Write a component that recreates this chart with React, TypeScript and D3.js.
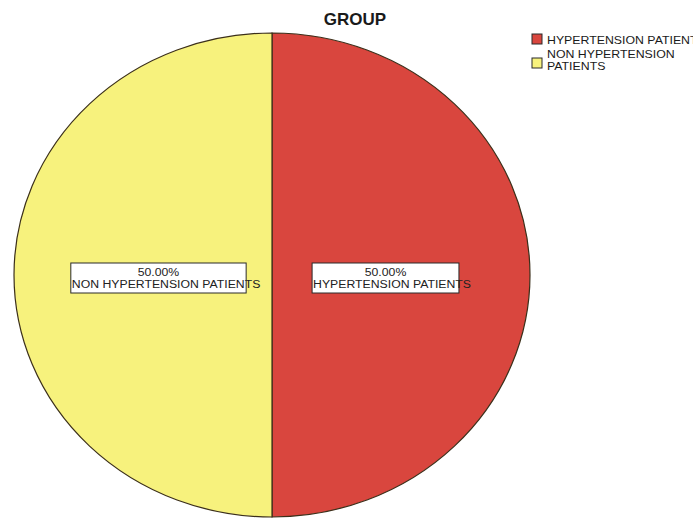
import { useEffect, useRef } from 'react';
import * as d3 from 'd3';

// Data
const categories = ['HYPERTENSION PATIENTS', 'NON HYPERTENSION PATIENTS'];
const percents = [50, 50];
const legendLines = [['HYPERTENSION PATIENTS'], ['NON HYPERTENSION', 'PATIENTS']];
const sliceColors = ['#d9463e', '#f7f27d'];

const WIDTH = 693;
const HEIGHT = 518;

export default function App() {
  const svgRef = useRef<SVGSVGElement>(null);

  useEffect(() => {
    if (!svgRef.current) return;
    const svg = d3.select(svgRef.current);
    svg.selectAll('*').remove();

    const cx = 272;
    const cy = 275;
    const rx = 258;
    const ry = 242;
    const sx = 1.066; // the picture is stretched horizontally
    const font = 'Liberation Sans, Arial, sans-serif';

    const data = categories.map((c, i) => ({ label: c, value: percents[i], color: sliceColors[i] }));

    const pie = d3
      .pie<{ label: string; value: number; color: string }>()
      .sort(null)
      .value((d) => d.value);
    const arcs = pie(data);

    const arc = d3
      .arc<d3.PieArcDatum<{ label: string; value: number; color: string }>>()
      .innerRadius(0)
      .outerRadius(rx);
    const labelArc = d3
      .arc<d3.PieArcDatum<{ label: string; value: number; color: string }>>()
      .innerRadius(rx * 0.44)
      .outerRadius(rx * 0.44);

    // Title
    svg
      .append('text')
      .attr('x', 355)
      .attr('y', 25)
      .attr('text-anchor', 'middle')
      .attr('font-family', font)
      .attr('font-weight', 'bold')
      .attr('font-size', 17)
      .attr('fill', '#1a1a1a')
      .text('GROUP');

    // Slices (ellipse: scaled vertically)
    const pieG = svg
      .append('g')
      .attr('transform', `translate(${cx},${cy}) scale(1,${ry / rx})`);
    pieG
      .selectAll('path')
      .data(arcs)
      .join('path')
      .attr('d', arc)
      .attr('fill', (d) => d.data.color)
      .attr('stroke', '#3b2f1a')
      .attr('stroke-width', 1.2)
      .attr('vector-effect', 'non-scaling-stroke');

    // Labels
    const labelG = svg.append('g').attr('transform', `translate(${cx},${cy})`);
    arcs.forEach((d) => {
      const [lx, ly] = labelArc.centroid(d);
      const py = ly * (ry / rx) + 3;
      const g = labelG.append('g').attr('transform', `translate(${lx},${py})`);
      const rect = g
        .append('rect')
        .attr('fill', '#ffffff')
        .attr('stroke', '#2a2a2a')
        .attr('stroke-width', 1);
      const tg = g.append('g').attr('transform', `scale(${sx},1)`);
      tg.append('text')
        .attr('x', 0)
        .attr('y', -2)
        .attr('text-anchor', 'middle')
        .attr('font-family', font)
        .attr('font-size', 11.5)
        .attr('fill', '#222')
        .text(`${d.data.value.toFixed(2)}%`);
      const t2 = tg
        .append('text')
        .attr('y', 10)
        .attr('font-family', font)
        .attr('font-size', 11.5)
        .attr('fill', '#222')
        .text(d.data.label);
      const len = (t2.node() as SVGTextElement).getComputedTextLength() * sx;
      const w = len * 0.93;
      rect.attr('x', -w / 2).attr('y', -15).attr('width', w).attr('height', 30);
      t2.attr('x', (-w / 2 + 1) / sx);
    });

    // Legend
    const legend = svg.append('g').attr('transform', 'translate(532,34)');
    let yOff = 0;
    legendLines.forEach((lines, i) => {
      const n = lines.length;
      const boxY = yOff + (n - 1) * 6;
      legend
        .append('rect')
        .attr('x', 0)
        .attr('y', boxY)
        .attr('width', 10)
        .attr('height', 10)
        .attr('fill', sliceColors[i])
        .attr('stroke', '#2a2a2a')
        .attr('stroke-width', 1);
      lines.forEach((line, j) => {
        legend
          .append('text')
          .attr('transform', `translate(15,${yOff + (i === 0 ? 10 : 5.5) + j * 12}) scale(1.1,1)`)
          .attr('font-family', font)
          .attr('font-size', 11.2)
          .attr('fill', '#1a1a1a')
          .text(line);
      });
      yOff += i === 0 ? 18 : n * 12;
    });
  }, []);

  return (
    <svg
      ref={svgRef}
      width={WIDTH}
      height={HEIGHT}
      style={{ position: 'absolute', left: 0, top: 0, background: '#ffffff' }}
    />
  );
}
